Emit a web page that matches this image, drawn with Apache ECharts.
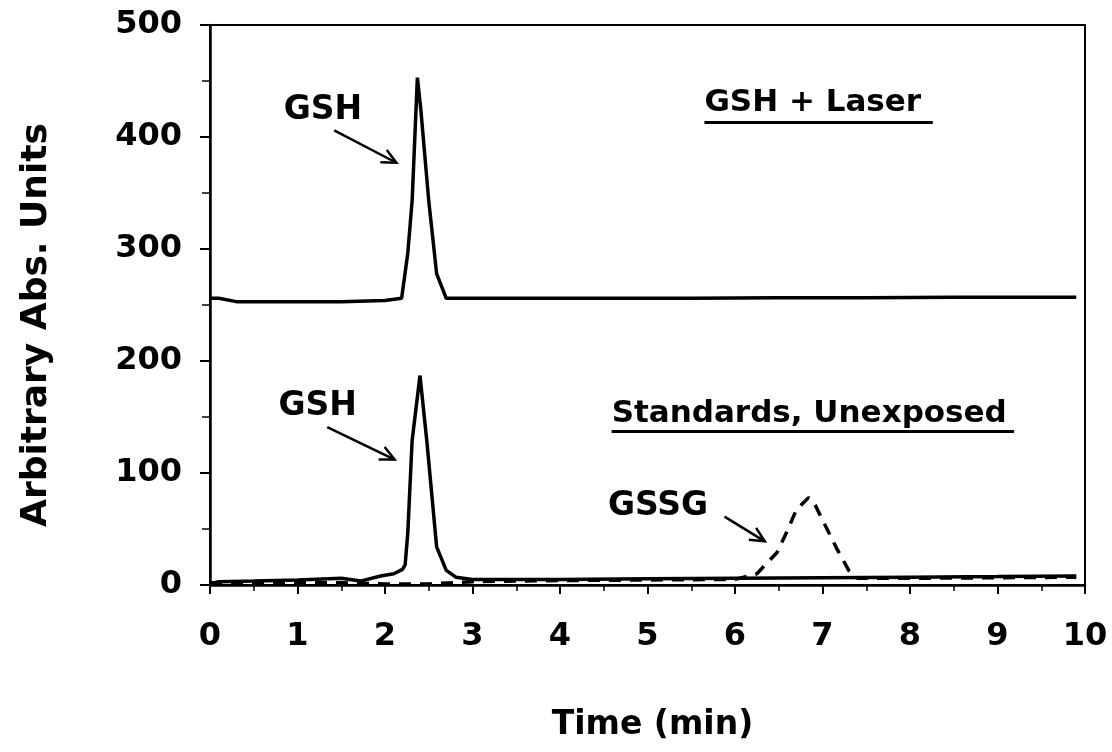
<!DOCTYPE html>
<html>
<head>
<meta charset="utf-8">
<script src="https://cdn.jsdelivr.net/npm/echarts@6/dist/echarts.min.js"></script>
<style>
html,body{margin:0;padding:0;background:#fff;}
#chart{width:1112px;height:752px;}
</style>
</head>
<body>
<div id="chart"></div>
<script>
// ---- Data ----
// Upper trace: GSH + Laser (solid)
const laserTime  = [0, 0.1, 0.3, 0.6, 1.0, 1.5, 2.0, 2.19, 2.26, 2.31, 2.37, 2.41, 2.50, 2.59, 2.70, 2.85, 3.5, 4.5, 5.5, 6.5, 7.5, 8.5, 9.5, 9.9];
const laserValue = [256, 256, 253, 253, 253, 253, 254, 256, 296, 343, 453, 424, 343, 278, 256, 256, 256, 256, 256, 256.5, 256.5, 257, 257, 257];

// Lower solid trace: GSH standard, unexposed
const gshTime  = [0, 0.1, 0.5, 1.0, 1.5, 1.72, 1.95, 2.1, 2.2, 2.23, 2.26, 2.31, 2.40, 2.48, 2.59, 2.70, 2.81, 3.0, 4.0, 5.0, 6.0, 7.0, 8.0, 9.0, 9.9];
const gshValue = [1, 3, 3.5, 4.5, 6, 3.5, 8, 10, 14, 18, 46, 129, 187, 127, 34, 13, 7, 5, 5, 5.5, 6, 6.5, 7, 7.5, 8];

// Lower dashed trace: GSSG standard, unexposed
const gssgTime  = [0, 0.5, 1, 1.5, 2, 2.5, 3, 4, 5, 6, 6.25, 6.48, 6.59, 6.7, 6.84, 6.9, 7.02, 7.16, 7.3, 7.4, 8, 9, 9.9];
const gssgValue = [2, 2, 2, 2, 1, 1, 3, 4, 4.5, 5, 10, 29, 47, 67, 78, 74, 55, 33, 13, 6, 6, 6.5, 7];

// Axis ranges / labels
const xTicks = [0, 10, 1];      // min, max, interval
const yTicks = [0, 500, 100];
const xAxisTitle = 'Time (min)';
const yAxisTitle = 'Arbitrary Abs. Units';

// Annotations (anchored in data coordinates)
const labelTexts  = ['GSH', 'GSH', 'GSSG'];
const labelAnchor = [[1.29, 424], [1.23, 159], [5.12, 70]];
const arrowFrom   = [[1.42, 406], [1.34, 141], [5.88, 61]];
const arrowTo     = [[2.13, 377], [2.11, 112], [6.34, 39]];
const titleTexts  = ['GSH + Laser', 'Standards, Unexposed'];
const titleAnchor = [[5.65, 430], [4.59, 153]];
const titleUnderlineEnd = [8.26, 9.19];
const titleUnderlineY   = [413, 137];

function pairs(xs, ys){ return xs.map((x,i)=>[x, ys[i]]); }

const FONT = '"DejaVu Sans", "Liberation Sans", Arial, sans-serif';
const chart = echarts.init(document.getElementById('chart'), null, {renderer:'canvas'});

chart.setOption({
  animation: false,
  backgroundColor: '#fff',
  grid: {left: 210, right: 27, top: 25, bottom: 167, show: true, borderColor: '#000', borderWidth: 2, backgroundColor: 'transparent'},
  xAxis: {
    type: 'value', min: xTicks[0], max: xTicks[1], interval: xTicks[2],
    name: xAxisTitle, nameLocation: 'middle', nameGap: 124,
    nameTextStyle: {fontFamily: FONT, fontWeight: 'bold', fontSize: 33, color: '#000', padding: [0, 0, 0, 10]},
    axisLine: {show: true, lineStyle: {color: '#000', width: 2.5}},
    axisTick: {show: true, inside: false, length: 9, lineStyle: {color: '#000', width: 2}},
    minorTick: {show: true, splitNumber: 2, length: 6, lineStyle: {color: '#000', width: 1.5}},
    axisLabel: {margin: 36, fontFamily: FONT, fontWeight: 'bold', fontSize: 32, color: '#000'},
    splitLine: {show: false}
  },
  yAxis: {
    type: 'value', min: yTicks[0], max: yTicks[1], interval: yTicks[2],
    name: yAxisTitle, nameLocation: 'middle', nameGap: 155,
    nameTextStyle: {fontFamily: FONT, fontWeight: 'bold', fontSize: 36, color: '#000', padding: [0, 40, 0, 0]},
    axisLine: {show: true, lineStyle: {color: '#000', width: 2.5}},
    axisTick: {show: true, inside: false, length: 10, lineStyle: {color: '#000', width: 2}},
    minorTick: {show: true, splitNumber: 2, length: 8, lineStyle: {color: '#000', width: 1.5}},
    axisLabel: {margin: 28, fontFamily: FONT, fontWeight: 'bold', fontSize: 32, color: '#000'},
    splitLine: {show: false}
  },
  series: [
    {name: 'GSH + Laser', type: 'line', data: pairs(laserTime, laserValue), showSymbol: false, symbol: 'none',
      lineStyle: {color: '#000', width: 3.5}, z: 3},
    {name: 'GSSG', type: 'line', data: pairs(gssgTime, gssgValue), showSymbol: false, symbol: 'none',
      lineStyle: {color: '#000', width: 3.5, type: [12, 9]}, z: 2},
    {name: 'GSH', type: 'line', data: pairs(gshTime, gshValue), showSymbol: false, symbol: 'none',
      lineStyle: {color: '#000', width: 3.5}, z: 3}
  ]
});

function px(p){ return chart.convertToPixel({gridIndex: 0}, p); }

const graphics = [];
labelTexts.forEach((t, i) => {
  const c = px(labelAnchor[i]);
  graphics.push({type: 'text', style: {text: t, x: c[0], y: c[1], font: 'bold 33px ' + FONT, fill: '#000',
    align: 'center', verticalAlign: 'middle', textAlign: 'center', textVerticalAlign: 'middle'}});
  const a = px(arrowFrom[i]), b = px(arrowTo[i]);
  graphics.push({type: 'line', shape: {x1: a[0], y1: a[1], x2: b[0], y2: b[1]}, style: {stroke: '#000', lineWidth: 2.5}});
  const ang = Math.atan2(b[1]-a[1], b[0]-a[0]);
  const L = 16, spread = 0.45;
  const p1 = [b[0] - L*Math.cos(ang - spread), b[1] - L*Math.sin(ang - spread)];
  const p2 = [b[0] - L*Math.cos(ang + spread), b[1] - L*Math.sin(ang + spread)];
  graphics.push({type: 'polyline', shape: {points: [p1, b, p2]}, style: {stroke: '#000', lineWidth: 2.5, fill: null}});
});
titleTexts.forEach((t, i) => {
  const c = px(titleAnchor[i]);
  graphics.push({type: 'text', style: {text: t, x: c[0], y: c[1], font: 'bold 31px ' + FONT, fill: '#000',
    align: 'left', verticalAlign: 'middle', textAlign: 'left', textVerticalAlign: 'middle'}});
  const u1 = px([titleAnchor[i][0], titleUnderlineY[i]]);
  const u2 = px([titleUnderlineEnd[i], titleUnderlineY[i]]);
  graphics.push({type: 'line', shape: {x1: u1[0], y1: u1[1], x2: u2[0], y2: u2[1]}, style: {stroke: '#000', lineWidth: 3}});
});
chart.setOption({graphic: graphics});
</script>
</body>
</html>
